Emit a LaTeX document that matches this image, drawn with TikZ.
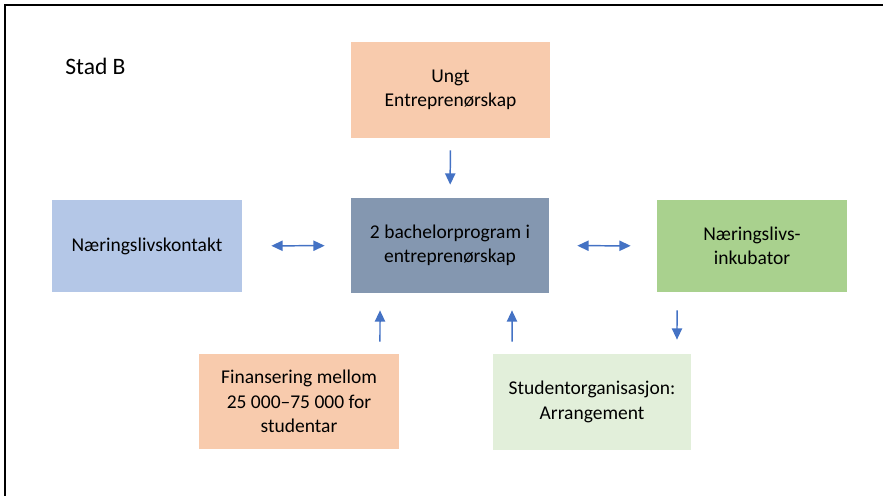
\documentclass[tikz,border=0pt]{standalone}
\usepackage{fontspec}
\setmainfont{Carlito}
\usetikzlibrary{arrows.meta,positioning}

\definecolor{peach}{HTML}{F8CBAD}
\definecolor{paleblue}{HTML}{B4C7E7}
\definecolor{slateblue}{HTML}{8497B0}
\definecolor{leafgreen}{HTML}{A9D18E}
\definecolor{palegreen}{HTML}{E2EFDA}
\definecolor{arrowblue}{HTML}{4472C4}

\begin{document}
\begin{tikzpicture}[x=0.02cm,y=-0.02cm]
				% one unit is one pixel of the page, y runs downwards
				\tikzset{box/.style={draw=none,align=center,inner sep=0pt,font=\fontsize{11.1}{14}\selectfont},
					link/.style={draw=arrowblue,line width=0.85pt,-{Triangle[width=5.8pt,length=6.4pt]}},
					twoway/.style={link,{Triangle[width=5.8pt,length=6.4pt]}-{Triangle[width=5.8pt,length=6.4pt]}},
				}
				\useasboundingbox (0,0) rectangle (883,496);
				% the frame is only seen on the left and at the top
				\draw[line width=1.1pt] (5,496) -- (5,5) -- (883,5);
				\node[font=\fontsize{13.4}{15}\selectfont,anchor=west,inner sep=0pt] (title) at (65,66) {Stad B};
				\node[box,fill=slateblue,minimum width=3.96cm,minimum height=1.9cm] (prog) at (450,245.5) {2 bachelorprogram i\\entreprenørskap};
				\node[box,fill=peach,minimum width=3.98cm,minimum height=1.92cm] (ungt) at (450.5,90) {Ungt\\Entreprenørskap};
				\node[box,fill=paleblue,minimum width=3.8cm,minimum height=1.84cm] (kontakt) at (147,246) {Næringslivskontakt};
				\node[box,fill=leafgreen,minimum width=3.8cm,minimum height=1.84cm] (inkub) at (752,246) {Næringslivs-\\inkubator};
				\node[box,fill=peach,minimum width=4cm,minimum height=1.9cm] (finans) at (299,401.5) {Finansering mellom\\25 000–75 000 for\\studentar};
				\node[box,fill=palegreen,minimum width=3.96cm,minimum height=1.92cm] (student) at (592,402) {Studentorganisasjon:\\Arrangement};
				% arrows keep a gap to the boxes
				\draw[link,shorten <=0.24cm,shorten >=0.26cm] (ungt) -- (prog);
				\draw[twoway,shorten <=0.58cm,shorten >=0.52cm] (kontakt) -- (prog);
				\draw[twoway,shorten <=0.56cm,shorten >=0.52cm] (prog) -- (inkub);
				\draw[link,shorten <=0.24cm,shorten >=0.34cm] ([xshift=1.62cm]finans.north) -- ([xshift=-1.4cm]prog.south);
				\draw[link,shorten <=0.24cm,shorten >=0.34cm] ([xshift=-1.6cm]student.north) -- ([xshift=1.24cm]prog.south);
				\draw[link,shorten <=0.36cm,shorten >=0.28cm] ([xshift=-1.5cm]inkub.south) -- ([xshift=1.7cm]student.north);
			\end{tikzpicture}
\end{document}
